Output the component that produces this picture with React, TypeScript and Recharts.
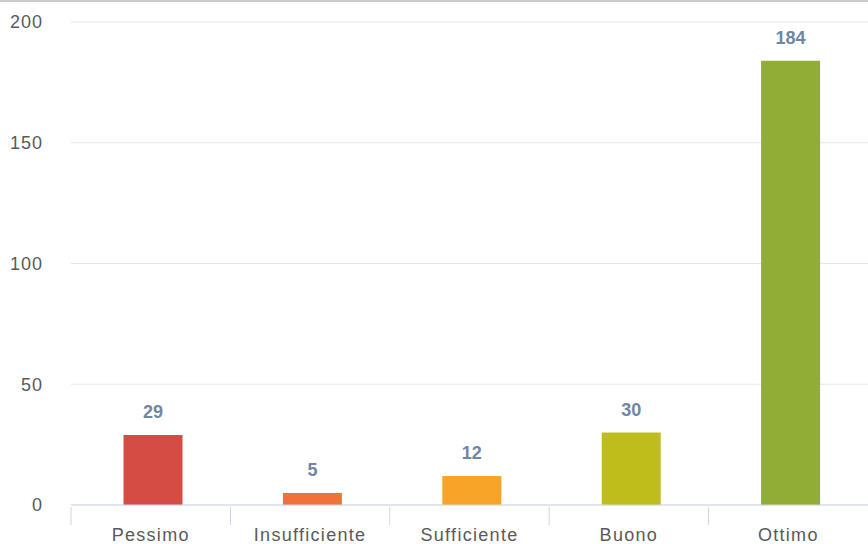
import React from 'react';
import { BarChart, Bar, XAxis, YAxis, CartesianGrid, Cell, LabelList, Rectangle } from 'recharts';

const categories = ['Pessimo', 'Insufficiente', 'Sufficiente', 'Buono', 'Ottimo'];
const votes = [29, 5, 12, 30, 184];
const barColors = ['#d54c45', '#f07238', '#f8a527', '#bfbd1b', '#90ae35'];
const yTicks = [0, 50, 100, 150, 200];

const data = categories.map((name, i) => ({ name, value: votes[i] }));

const W = 868;
const H = 544;
const PLOT_LEFT = 71;
const BAND = (W - PLOT_LEFT) / categories.length;
const FONT = 'Liberation Sans, Arial, sans-serif';

const CategoryTick = (props: any) => {
  const { x, y, payload } = props;
  return (
    <g>
      <line x1={x - BAND / 2} x2={x - BAND / 2} y1={y} y2={y + 18} stroke="#ccd6eb" strokeWidth={1} />
      <text x={x} y={y + 34} textAnchor="middle" fill="#5a5a5a" fontSize={18} letterSpacing={1.3} fontFamily={FONT}>
        {payload.value}
      </text>
    </g>
  );
};

// Highcharts draws the columns a hair right of the band centre
const ShiftedBar = (props: any) => <Rectangle {...props} x={props.x + 2.5} />;

export default function App() {
  return (
    <div style={{ position: 'absolute', left: 0, top: 0, width: W, height: H, background: '#fff' }}>
      <div style={{ position: 'absolute', left: 0, top: 0, width: W, height: 2, background: '#cccccc' }} />
      <BarChart width={W} height={H} data={data} margin={{ top: 22, right: 0, bottom: 0, left: 0 }}>
        <CartesianGrid vertical={false} stroke="#e6e6e6" />
        <XAxis
          dataKey="name"
          height={39}
          axisLine={{ stroke: '#ccd6eb' }}
          tickLine={false}
          tickSize={0}
          interval={0}
          tick={<CategoryTick />}
        />
        <YAxis
          width={PLOT_LEFT}
          domain={[0, 200]}
          ticks={yTicks}
          axisLine={false}
          tickLine={false}
          tickSize={0}
          tickMargin={28}
          tick={{ fill: '#5a5a5a', fontSize: 18, letterSpacing: 1, fontFamily: FONT }}
        />
        <Bar dataKey="value" barSize={59} shape={<ShiftedBar />} isAnimationActive={false}>
          {data.map((d, i) => (
            <Cell key={d.name} fill={barColors[i]} />
          ))}
          <LabelList
            dataKey="value"
            position="top"
            offset={17}
            fill="#6e87a6"
            fontSize={18}
            fontWeight="bold"
            fontFamily={FONT}
            dx={2.5}
          />
        </Bar>
      </BarChart>
    </div>
  );
}
